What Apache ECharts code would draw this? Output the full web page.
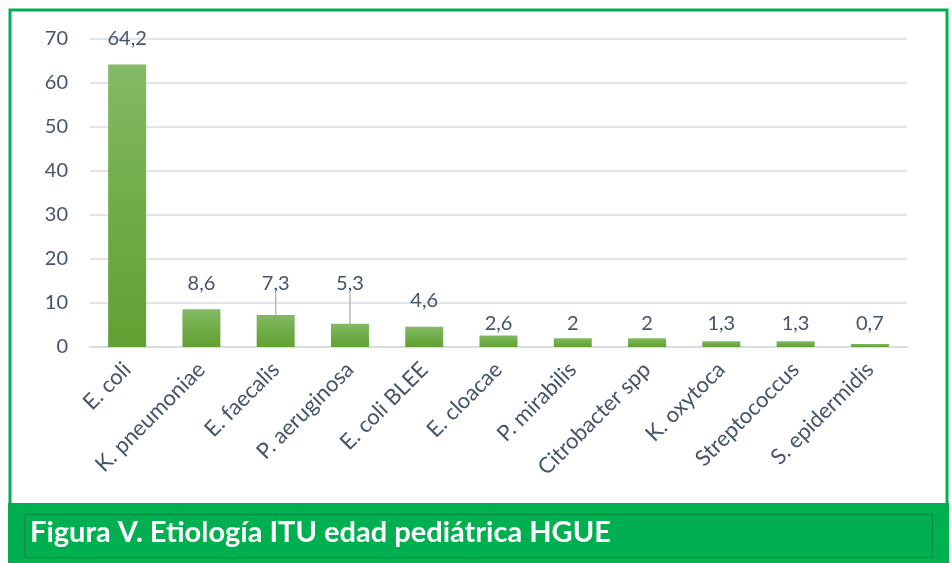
<!DOCTYPE html>
<html>
<head>
<meta charset="utf-8">
<script src="https://cdn.jsdelivr.net/npm/echarts@6/dist/echarts.min.js"></script>
<style>
  html, body { margin: 0; padding: 0; background: #fff; }
  #main { width: 952px; height: 563px; }
</style>
</head>
<body>
<div id="main"></div>
<script>
// datos de la figura
var categories = ['E. coli', 'K. pneumoniae', 'E. faecalis', 'P. aeruginosa', 'E. coli BLEE',
  'E. cloacae', 'P. mirabilis', 'Citrobacter spp', 'K. oxytoca', 'Streptococcus', 'S. epidermidis'];
var values = [64.2, 8.6, 7.3, 5.3, 4.6, 2.6, 2, 2, 1.3, 1.3, 0.7];
var yMin = 0, yMax = 70, yStep = 10;
var raisedLabels = [2, 3];   // etiquetas subidas con línea guía
var raisedTo = 1;            // al nivel de la etiqueta de K. pneumoniae
var caption = 'Figura V. Etiología ITU edad pediátrica HGUE';

var textColor = '#44546a';
var font = 'Lato, "Open Sans", sans-serif';

var seriesData = values.map(function (v, i) {
    var item = { value: v };
    if (raisedLabels.indexOf(i) >= 0) {
        item.labelLine = { show: true };
    }
    return item;
});

var myChart = echarts.init(document.getElementById('main'));
var option = {
    backgroundColor: '#fff',
    animation: false,
    grid: {
        left: 90,
        right: 45,
        top: 39,
        bottom: 216,
        containLabel: false
    },
    xAxis: {
        type: 'category',
        data: categories,
        axisTick: { show: false },
        axisLine: { lineStyle: { color: '#d9dde3', width: 2 } },
        axisLabel: {
            interval: 0,
            rotate: 45,
            margin: 19,
            color: textColor,
            fontSize: 22,
            fontFamily: font
        }
    },
    yAxis: {
        type: 'value',
        min: yMin,
        max: yMax,
        interval: yStep,
        axisLine: { show: false },
        axisTick: { show: false },
        axisLabel: {
            margin: 22,
            color: textColor,
            fontSize: 20,
            fontFamily: font
        },
        splitLine: { lineStyle: { color: '#e1e5ea', width: 2 } }
    },
    series: [{
        type: 'bar',
        data: seriesData,
        barWidth: 38,
        itemStyle: {
            color: new echarts.graphic.LinearGradient(0, 0, 0, 1, [
                { offset: 0, color: '#84b966' },
                { offset: 0.5, color: '#70ad47' },
                { offset: 1, color: '#62a033' }
            ])
        },
        label: {
            show: true,
            position: 'top',
            distance: 8,
            color: textColor,
            fontSize: 20,
            fontFamily: font,
            formatter: function (p) { return String(p.value).replace('.', ','); }
        },
        labelLine: {
            show: false,
            lineStyle: { color: '#adb9ca', width: 1.5 }
        },
        labelLayout: function (p) {
            var i = p.dataIndex;
            var v = values[i];
            var zeroY = p.rect.y + p.rect.height;
            var pxPerUnit = p.rect.height / v;
            var bottom = p.labelRect.y + p.labelRect.height;
            var target;
            if (raisedLabels.indexOf(i) >= 0) {
                target = zeroY - values[raisedTo] * pxPerUnit - 16;
            } else if (p.rect.height < 15) {
                target = zeroY - 13;   // las etiquetas pequeñas quedan a la misma altura
            } else {
                target = p.rect.y - 16;
            }
            return { dy: target - bottom };
        }
    }],
    graphic: [
        {
            type: 'rect',
            shape: { x: 10, y: 10, width: 937, height: 500 },
            style: { fill: 'none', stroke: '#00b050', lineWidth: 3 },
            z: -1
        },
        {
            type: 'rect',
            shape: { x: 8, y: 503, width: 941, height: 60 },
            style: { fill: '#00b050' }
        },
        {
            type: 'rect',
            shape: { x: 24.5, y: 514.5, width: 908, height: 43 },
            style: { fill: 'none', stroke: '#008a3c', lineWidth: 1 }
        },
        {
            type: 'text',
            left: 30,
            top: 518,
            style: {
                text: caption,
                fill: '#fff',
                font: 'bold 29px ' + font
            }
        }
    ]
};

myChart.setOption(option);
</script>
</body>
</html>
